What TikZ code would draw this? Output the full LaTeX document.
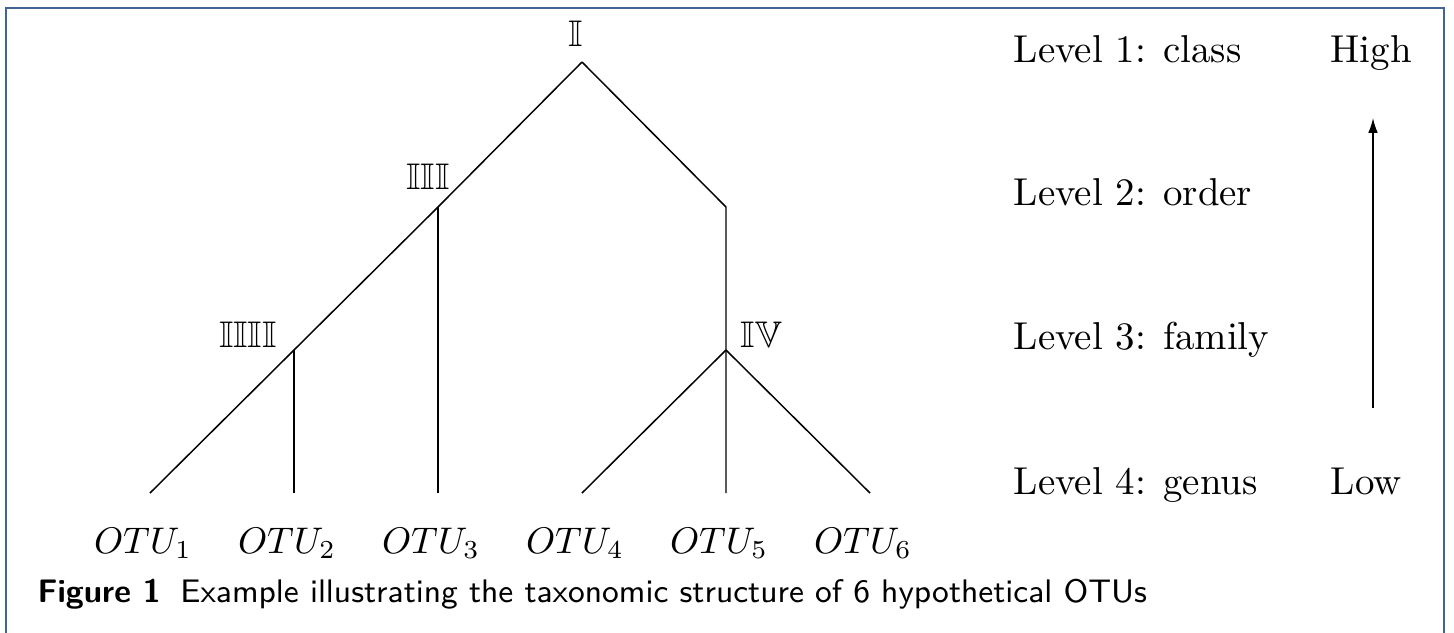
\documentclass[tikz,border=0pt]{standalone}
\usepackage{amssymb}
\usetikzlibrary{arrows.meta}
\definecolor{framecol}{RGB}{66, 100, 150}
\begin{document}
\begin{tikzpicture}[x=0.27pt, y=-0.27pt,
    every node/.style={inner sep=0pt},
    lvltext/.style={anchor=base west, font=\fontsize{10.5}{12.6}\selectfont},
    ranktext/.style={anchor=base},
    otutext/.style={anchor=base}]
  \useasboundingbox (0,0) rectangle (1454,632);
  \clip (0,0) rectangle (1454,632);
  \draw[framecol, line width=0.7pt] (6,660) -- (6,8) -- (1444,8) -- (1444,660);
  \coordinate (top) at (582,62);
  \coordinate (n3)  at (438,207);
  \coordinate (n4)  at (294,350);
  \coordinate (rt)  at (726,207);
  \coordinate (n5)  at (726,350);
  \coordinate (l1)  at (150,493);
  \coordinate (l2)  at (294,493);
  \coordinate (l3)  at (438,493);
  \coordinate (l4)  at (582,493);
  \coordinate (l5)  at (726,493);
  \coordinate (l6)  at (870,493);
  \draw (top) -- (n3) -- (n4) -- (l1);
  \draw (n4) -- (l2);
  \draw (n3) -- (l3);
  \draw (top) -- (rt) -- (n5) -- (l5);
  \draw (n5) -- (l4);
  \draw (n5) -- (l6);
  \node[ranktext] (rk1) at (576,46)  {$\mathbb{I}$};
  \node[ranktext] (rk2) at (428,189) {$\mathbb{III}$};
  \node[ranktext] (rk3) at (248,347) {$\mathbb{IIII}$};
  \node[ranktext, anchor=base west] (rk4) at (740,347) {$\mathbb{IV}$};
  \node[otutext] (o1) at (143,553) {$OTU_1$};
  \node[otutext] (o2) at (287,553) {$OTU_2$};
  \node[otutext] (o3) at (431,553) {$OTU_3$};
  \node[otutext] (o4) at (575,553) {$OTU_4$};
  \node[otutext] (o5) at (719,553) {$OTU_5$};
  \node[otutext] (o6) at (863,553) {$OTU_6$};
  \node[lvltext] (lv1) at (1013,62)  {Level 1: class};
  \node[lvltext] (lv2) at (1013,205) {Level 2: order};
  \node[lvltext] (lv3) at (1013,349) {Level 3: family};
  \node[lvltext] (lv4) at (1013,494) {Level 4: genus};
  \node[lvltext] (hi) at (1330,62)  {High};
  \node[lvltext] (lo) at (1330,494) {Low};
  \coordinate (abot) at (1373,408);
  \coordinate (atop) at (1373,118);
  \draw[-{Latex[length=4pt, width=2.6pt]}] (abot) -- (atop);
  \node[anchor=base west, font=\sffamily\fontsize{8.8}{10.5}\selectfont] (cap) at (37,602)
    {\textbf{Figure 1}\hspace{0.6em}Example illustrating the taxonomic structure of 6 hypothetical OTUs};
\end{tikzpicture}
\end{document}
